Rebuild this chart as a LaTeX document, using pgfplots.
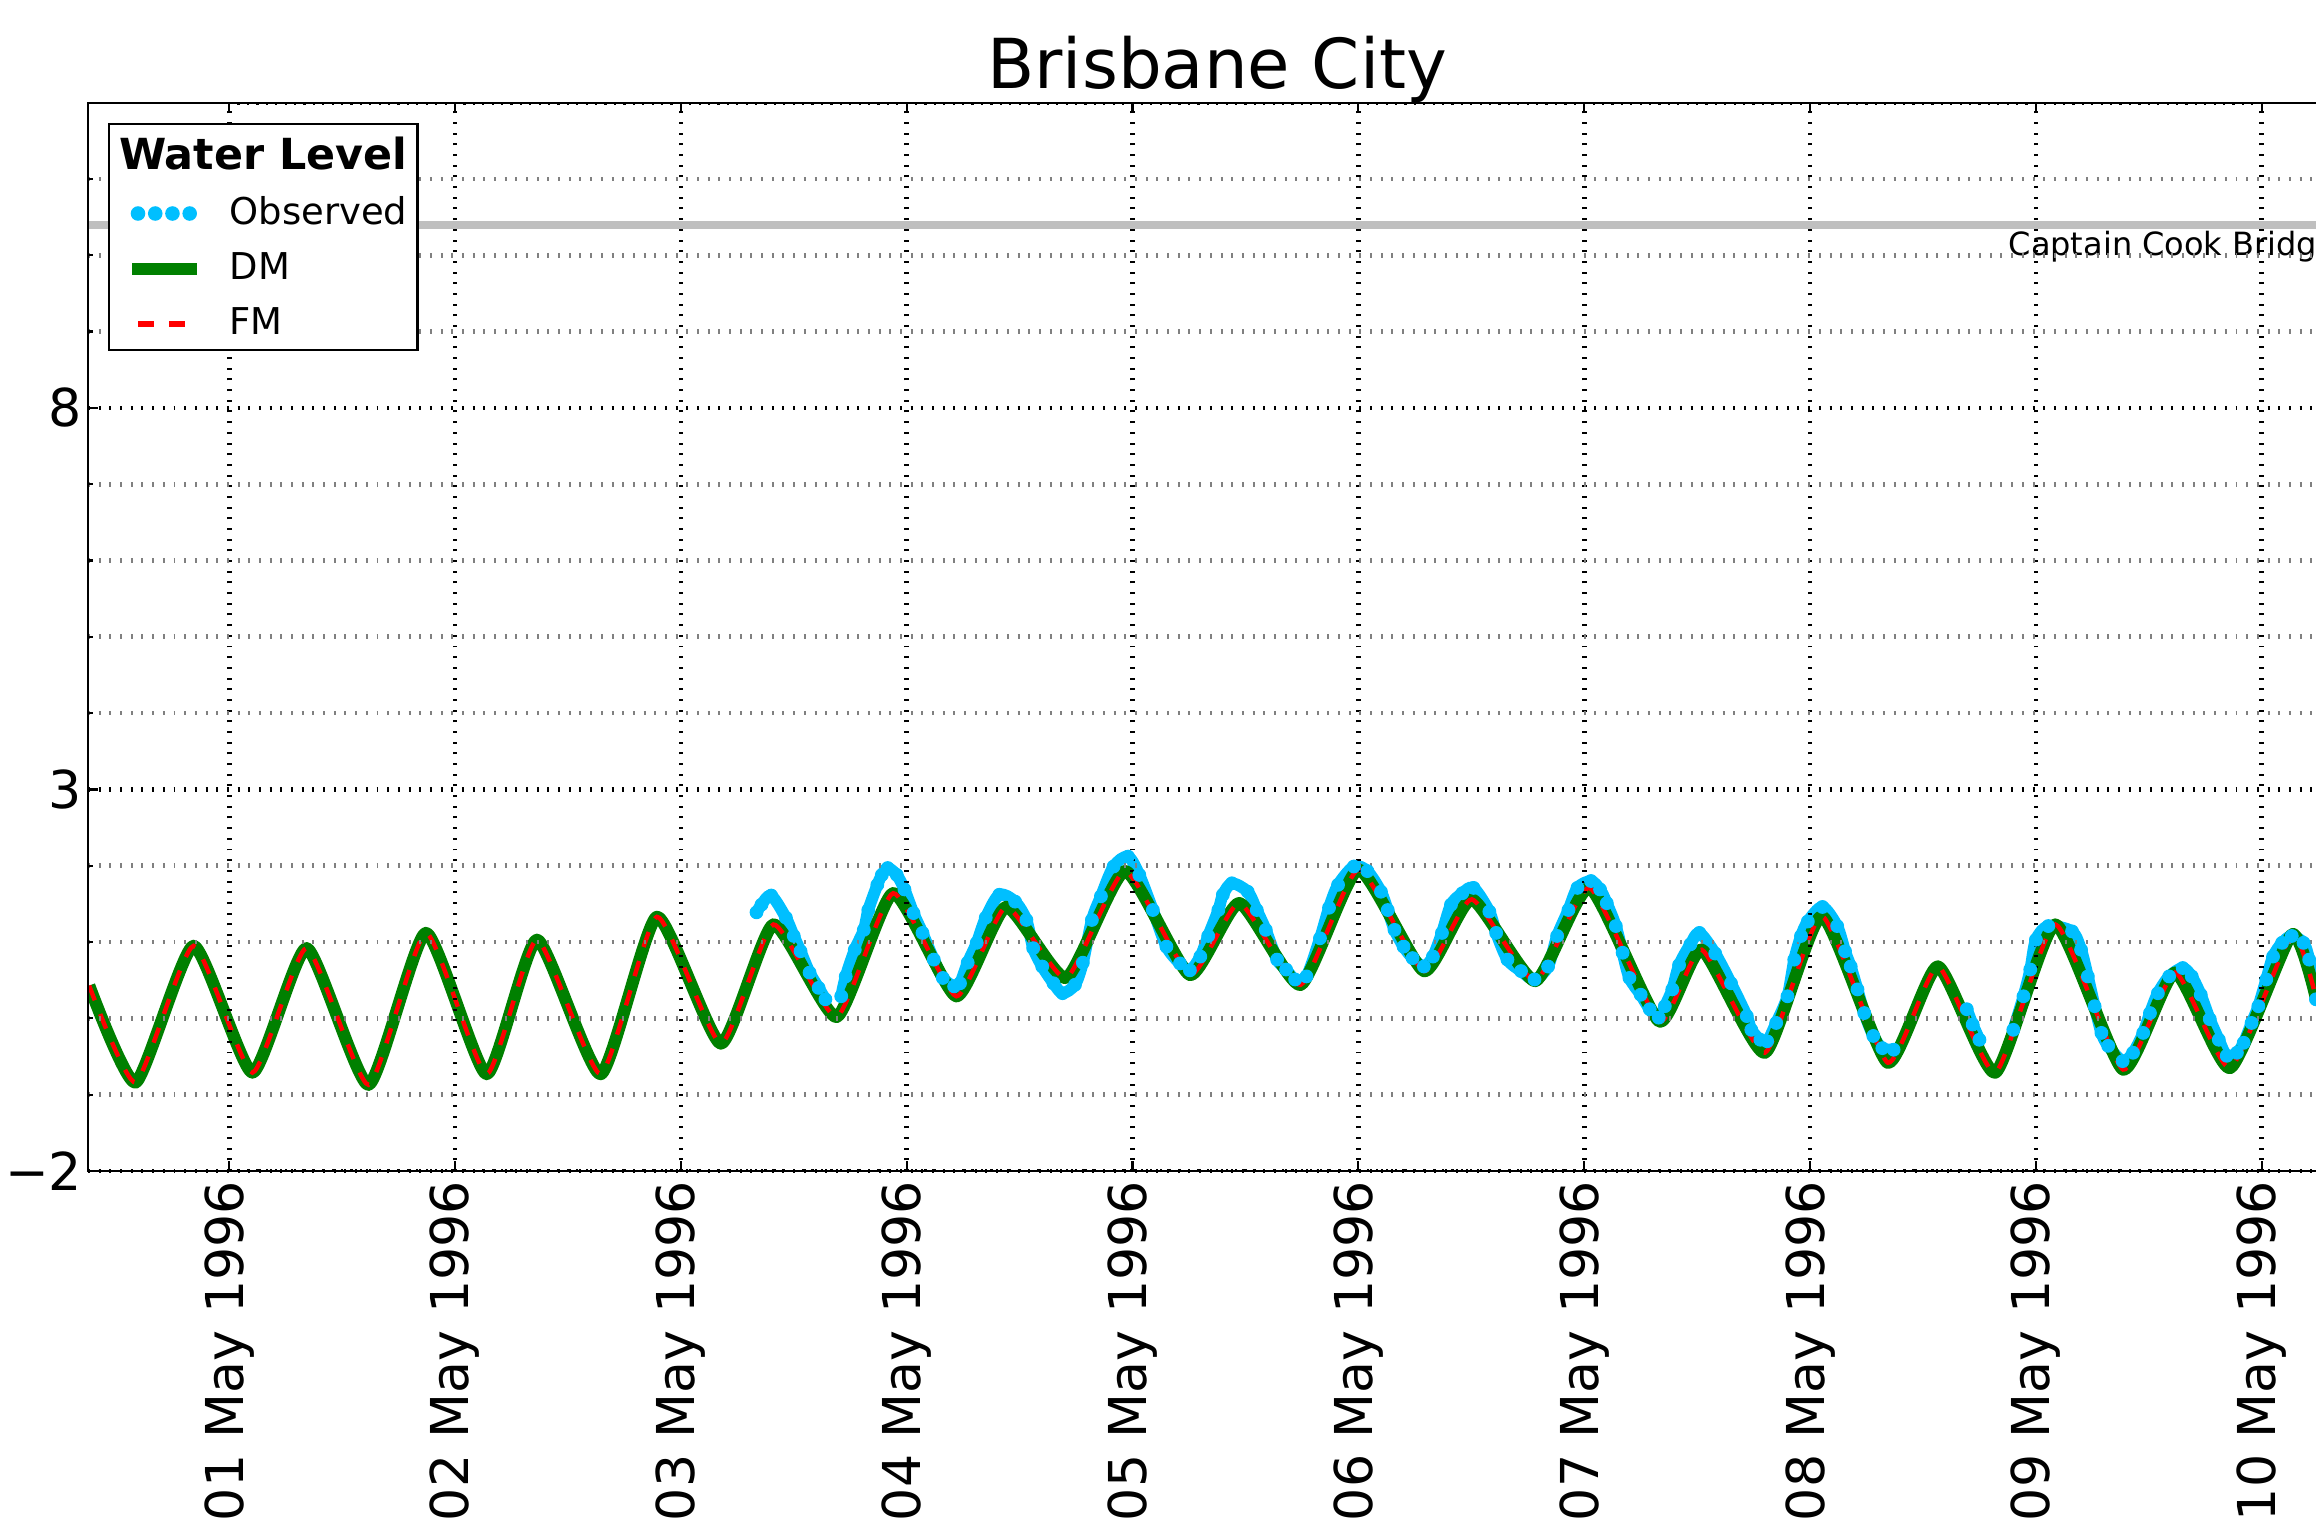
\documentclass[border=0pt]{standalone}
\usepackage{fontspec}
\setmainfont{DejaVu Sans}
\usepackage{pgfplots}
\usepackage{pgfplotstable}
\pgfplotsset{compat=1.18}

\definecolor{obs}{RGB}{0,191,255}
\definecolor{dmgreen}{RGB}{0,128,0}
\definecolor{fmred}{RGB}{255,0,0}
\definecolor{bridgegray}{RGB}{191,191,191}
\definecolor{minorgrid}{RGB}{128,128,128}

% DM model (tide extremes, days since 01 May 1996 00:00)
\pgfplotstableread{
day val
-0.620 0.43
-0.414 -0.84
-0.158 0.95
0.103 -0.71
0.343 0.92
0.617 -0.87
0.871 1.12
1.140 -0.73
1.363 1.03
1.645 -0.73
1.894 1.33
2.177 -0.33
2.410 1.23
2.690 0.02
2.940 1.64
3.220 0.29
3.440 1.46
3.706 0.53
3.967 1.93
4.254 0.57
4.473 1.51
4.744 0.44
5.000 1.95
5.291 0.62
5.502 1.56
5.783 0.49
6.024 1.71
6.332 -0.04
6.520 0.90
6.800 -0.45
7.052 1.34
7.344 -0.58
7.566 0.68
7.820 -0.71
8.086 1.23
8.386 -0.67
8.616 0.60
8.860 -0.65
9.133 1.10
9.240 0.27
}\dmdata

% Observed
\pgfplotstableread{
day val
2.335 1.39
2.357 1.49
2.400 1.61
2.465 1.32
2.500 1.08
2.530 0.88
2.570 0.60
2.610 0.40
2.640 0.25
}\obsA

\pgfplotstableread{
day val
2.710 0.29
2.730 0.55
2.770 0.90
2.810 1.16
2.830 1.42
2.870 1.75
2.890 1.88
2.916 1.97
2.956 1.88
2.990 1.69
3.030 1.38
3.070 1.12
3.120 0.77
3.160 0.53
3.210 0.42
3.236 0.46
3.270 0.73
3.310 0.99
3.350 1.32
3.410 1.62
3.480 1.53
3.530 1.29
3.560 0.92
3.600 0.68
3.650 0.46
3.690 0.33
3.745 0.44
3.780 0.73
3.820 1.29
3.860 1.60
3.916 1.99
3.980 2.12
4.030 1.88
4.090 1.42
4.150 0.94
4.210 0.72
4.254 0.63
4.300 0.81
4.335 1.08
4.380 1.42
4.400 1.62
4.440 1.77
4.510 1.66
4.550 1.42
4.590 1.16
4.640 0.77
4.680 0.64
4.720 0.51
4.770 0.55
4.830 1.05
4.870 1.45
4.910 1.75
4.980 1.99
5.040 1.93
5.100 1.66
5.130 1.42
5.160 1.16
5.200 0.94
5.240 0.79
5.290 0.68
5.330 0.81
5.370 1.12
5.410 1.49
5.460 1.64
5.510 1.71
5.580 1.40
5.610 1.12
5.660 0.77
5.720 0.62
5.780 0.51
5.840 0.68
5.880 1.08
5.930 1.42
5.970 1.71
6.030 1.80
6.070 1.69
6.100 1.51
6.140 1.21
6.170 0.86
6.200 0.53
6.250 0.31
6.290 0.12
6.330 0.01
6.357 0.16
6.390 0.38
6.420 0.70
6.470 0.97
6.510 1.12
6.580 0.85
6.650 0.46
6.720 0.03
6.740 -0.15
6.780 -0.28
6.810 -0.30
6.850 -0.06
6.900 0.29
6.930 0.77
6.960 1.08
6.990 1.27
7.055 1.46
7.120 1.21
7.155 0.88
7.180 0.68
7.210 0.38
7.240 0.07
7.280 -0.23
7.320 -0.39
7.370 -0.41
}\obsB

\pgfplotstableread{
day val
7.694 0.12
7.720 -0.08
7.750 -0.28
}\obsC

\pgfplotstableread{
day val
7.900 -0.15
7.945 0.29
7.975 0.64
8.000 1.03
8.055 1.21
8.160 1.14
8.200 0.90
8.230 0.55
8.260 0.16
8.290 -0.19
8.320 -0.36
8.384 -0.56
8.430 -0.45
8.475 -0.19
8.505 0.07
8.540 0.33
8.590 0.55
8.650 0.66
8.690 0.55
8.730 0.31
8.770 -0.01
8.810 -0.28
8.845 -0.49
8.890 -0.45
8.920 -0.32
8.955 -0.06
8.985 0.16
9.020 0.51
9.050 0.81
9.090 0.99
9.133 1.08
9.185 0.99
9.210 0.77
9.240 0.25
}\obsD

\pgfplotsset{obsstyle/.style={obs, line width=2.4pt, line cap=round, line join=round, smooth, tension=0.5,
  mark=*, mark size=1.3pt, mark options={solid, draw=obs, fill=obs, line width=0.2pt}, forget plot}}

\newlength\obsw
\begin{document}%
\settowidth{\obsw}{\fontsize{7.5}{9}\selectfont Observed}%
\begin{tikzpicture}
\begin{axis}[
  at={(0,0)}, anchor=south west,
  scale only axis, width=458.7pt, height=217.0pt,
  xmin=-0.625, xmax=9.375, ymin=-2, ymax=12,
  xtick={0,1,2,3,4,5,6,7,8,9},
  xticklabels={01 May 1996,02 May 1996,03 May 1996,04 May 1996,05 May 1996,06 May 1996,07 May 1996,08 May 1996,09 May 1996,10 May 1996},
  ytick={-2,3,8}, yticklabels={−2,3,8},
  minor ytick={-1,0,1,2,4,5,6,7,9,10,11},
  minor x tick num=23,
  xmajorgrids=true, ymajorgrids=true, yminorgrids=true, xminorgrids=false,
  major grid style={black, line width=0.95pt, dash pattern=on 0.4pt off 1.77pt},
  minor grid style={minorgrid, line width=0.95pt, dash pattern=on 0.4pt off 1.77pt},
  axis line style={line width=0.45pt},
  major tick length=2pt, minor tick length=1pt,
  every tick/.style={black, line width=0.45pt},
  minor x tick style={/pgfplots/minor tick length=0.4pt},
  tick align=inside,
  axis on top,
  xticklabel style={font=\fontsize{10.6}{12}\selectfont, yshift=-1.8pt, rotate=90, anchor=east, inner sep=0pt},
  yticklabel style={font=\fontsize{10.6}{12}\selectfont, anchor=east, inner sep=0pt, xshift=-1pt},
  every axis title shift=0pt,
  title={Brisbane City},
  title style={font=\fontsize{14}{16}\selectfont, anchor=base, at={(0.5,1)}, yshift=2.85pt, inner sep=0pt},
  legend cell align=left,
  legend style={at={(0,1)}, anchor=north west, xshift=4pt, yshift=-4.05pt,
    draw=black, line width=0.45pt, fill=white,
    inner xsep=2.1pt, inner ysep=1.5pt, column sep=5.4pt, row sep=3.7pt,
    font=\fontsize{7.5}{9}\selectfont,
    nodes={inner sep=0pt, text height=6pt, text depth=1.5pt}},
]
% bridge clearance line
\addplot[bridgegray, line width=1.6pt, forget plot] coordinates {(-0.625,10.4) (9.375,10.4)};
\node[anchor=base west, inner sep=0pt, font=\fontsize{6.5}{8}\selectfont] at (axis cs:7.875,10.0) {Captain Cook Bridge};

% observed
\addplot[obsstyle] table[x=day, y=val] {\obsA};
\addplot[obsstyle] table[x=day, y=val] {\obsB};
\addplot[obsstyle] table[x=day, y=val] {\obsC};
\addplot[obsstyle] table[x=day, y=val] {\obsD};
% DM
\addplot[dmgreen, line width=2.5pt, smooth, tension=0.32, line join=round, forget plot] table[x=day, y=val] {\dmdata};
% FM
\addplot[fmred, line width=0.9pt, smooth, tension=0.32, dash pattern=on 3.2pt off 3pt, forget plot] table[x=day, y=val] {\dmdata};

\addlegendimage{empty legend}
\addlegendentry[text height=7.8pt]{\makebox[\obsw][r]{\fontsize{8.7}{10}\selectfont\bfseries Water Level}}
\addlegendimage{legend image code/.code={\path (-2.4pt,0) (13.2pt,0);
  \foreach \i in {0,1,2,3}{\fill[obs] (1.2pt+\i*3.5pt,0) circle (1.25pt);}}}
\addlegendentry{Observed}
\addlegendimage{legend image code/.code={\path (-2.4pt,0) (13.2pt,0);
  \draw[dmgreen, line width=2.4pt] (0,0) -- (13.2pt,0);}}
\addlegendentry{DM}
\addlegendimage{legend image code/.code={\path (-2.4pt,0) (13.2pt,0);
  \draw[fmred, line width=1.1pt, dash pattern=on 3.3pt off 3pt] (1.2pt,0) -- (11pt,0);}}
\addlegendentry{FM}
\end{axis}
\pgfresetboundingbox
\path[use as bounding box] (-17.88pt,-72.96pt) rectangle (452.52pt,237.84pt);
\end{tikzpicture}%
\end{document}
